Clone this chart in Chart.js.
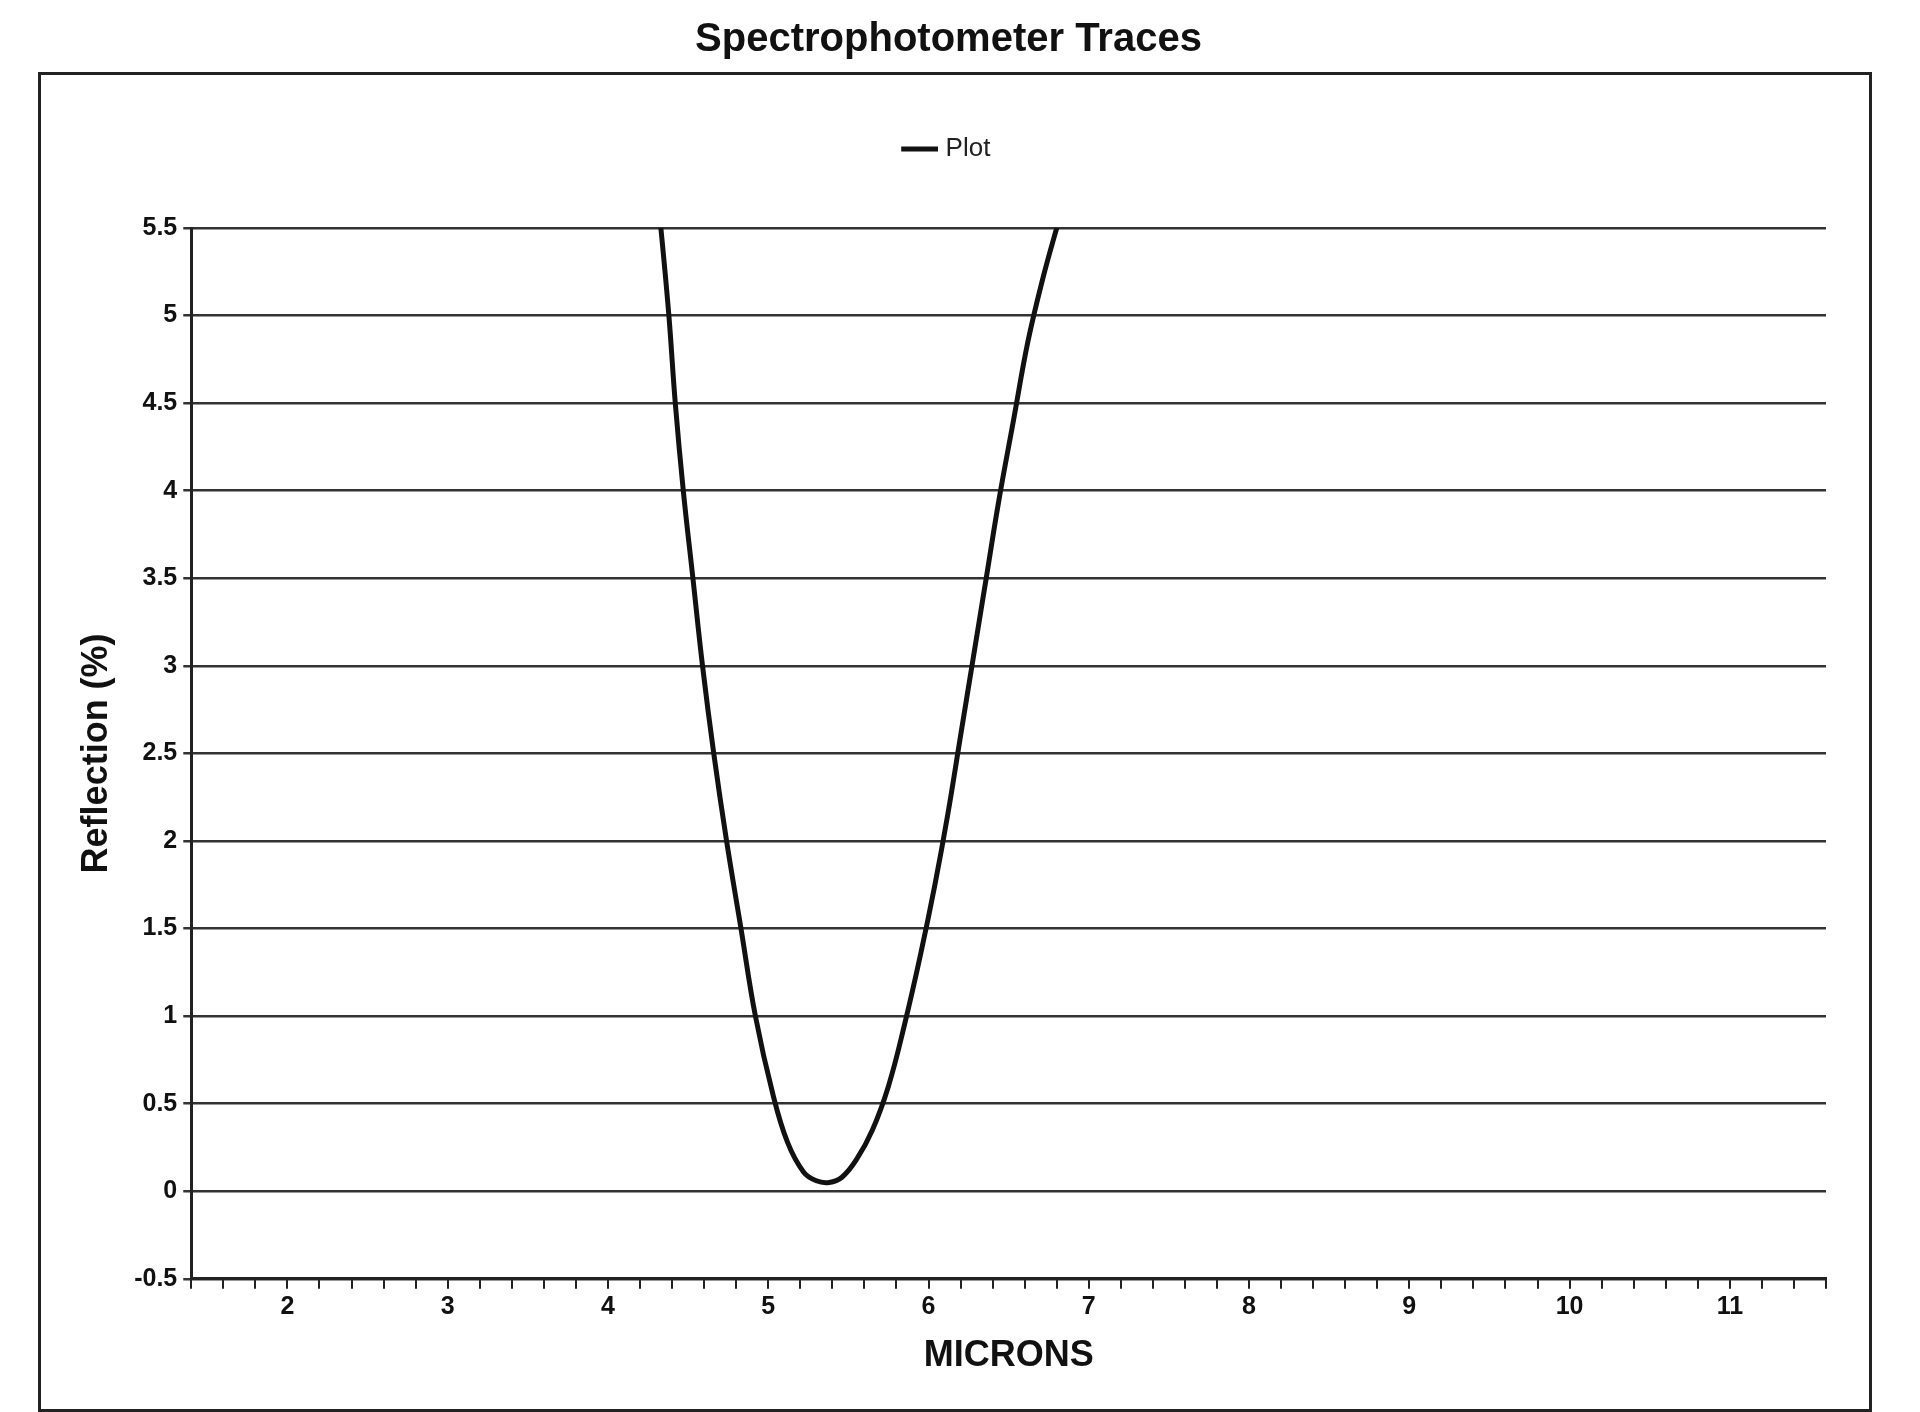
<!DOCTYPE html>
<html><head><meta charset="utf-8">
<script src="https://cdn.jsdelivr.net/npm/chart.js@4/dist/chart.umd.min.js"></script>
<style>
html,body{margin:0;padding:0;background:#fff;width:1920px;height:1412px;overflow:hidden}
#frame{position:absolute;left:38px;top:72px;width:1834px;height:1340px;border:3px solid #222;box-sizing:border-box}
#wrap{position:absolute;left:0;top:0;width:1920px;height:1412px}
</style></head><body>
<div id="frame"></div>
<div id="wrap"><canvas id="c"></canvas></div>
<script>
const micronsX = [4.30,4.33,4.38,4.42,4.47,4.53,4.59,4.66,4.74,4.83,4.92,5.03,5.12,5.22,5.30,5.38,5.46,5.55,5.65,5.75,5.85,5.95,6.04,6.12,6.20,6.28,6.36,6.44,6.53,6.62,6.71,6.80,6.84,6.87];
const reflectionY = [5.75,5.5,5.0,4.5,4.0,3.5,3.0,2.5,2.0,1.5,1.0,0.55,0.28,0.11,0.06,0.05,0.08,0.18,0.35,0.6,0.95,1.35,1.75,2.15,2.6,3.05,3.5,3.95,4.4,4.85,5.2,5.5,5.62,5.75];
const yTicks = [-0.5,0,0.5,1,1.5,2,2.5,3,3.5,4,4.5,5,5.5];
const xTickLabels = [2,3,4,5,6,7,8,9,10,11];

new Chart(document.getElementById('c'), {
  type: 'line',
  data: { datasets: [{
    label: 'Plot',
    data: micronsX.map((x,i)=>({x:x,y:reflectionY[i]})),
    borderColor: '#111', borderWidth: 5, pointRadius: 0, tension: 0.4, fill: false
  }]},
  options: {
    responsive: true, maintainAspectRatio: false, animation: false,
    layout: { padding: { left: 71, right: 94, top: 10, bottom: 30 } },
    plugins: {
      title: { display: true, text: 'Spectrophotometer Traces', color: '#111',
        font: { family: 'Liberation Sans', size: 40, weight: 'bold' }, padding: { top: 6, bottom: 62 } },
      legend: { display: true, position: 'top',
        labels: { usePointStyle: true, pointStyle: 'line', color: '#222',
          font: { family: 'Liberation Sans', size: 26 }, padding: 10 } },
      tooltip: { enabled: false }
    },
    scales: {
      x: { type: 'linear', min: 1.4, max: 11.6,
        ticks: { stepSize: 0.2, autoSkip: false, maxRotation: 0, color: '#111',
          font: { family: 'Liberation Sans', size: 25, weight: 'bold' },
          callback: v => { const r = Math.round(v); return (Math.abs(v-r)<1e-6 && xTickLabels.includes(r)) ? String(r) : ''; } },
        grid: { drawOnChartArea: false, color: '#222', tickLength: 10, lineWidth: 2 },
        border: { color: '#222', width: 3 },
        title: { display: true, text: 'MICRONS', color: '#111', font: { family: 'Liberation Sans', size: 36, weight: 'bold' }, padding: { top: 10 } }
      },
      y: { min: -0.5, max: 5.5,
        afterBuildTicks: s => { s.ticks = yTicks.map(v=>({value:v})); },
        ticks: { color: '#111', font: { family: 'Liberation Sans', size: 25, weight: 'bold' }, padding: 6, callback: v => String(v) },
        grid: { color: '#333', lineWidth: 2.5, tickLength: 8 },
        border: { color: '#222', width: 3 },
        title: { display: true, text: 'Reflection (%)', color: '#111', font: { family: 'Liberation Sans', size: 36, weight: 'bold' }, padding: { bottom: 10 } }
      }
    }
  },
  plugins: [{ id: 'legendGap', afterInit(chart) {
    const lg = chart.legend; const f = lg.fit;
    lg.fit = function(){ f.call(this); this.height += 56; };
  }}]
});
</script></body></html>
